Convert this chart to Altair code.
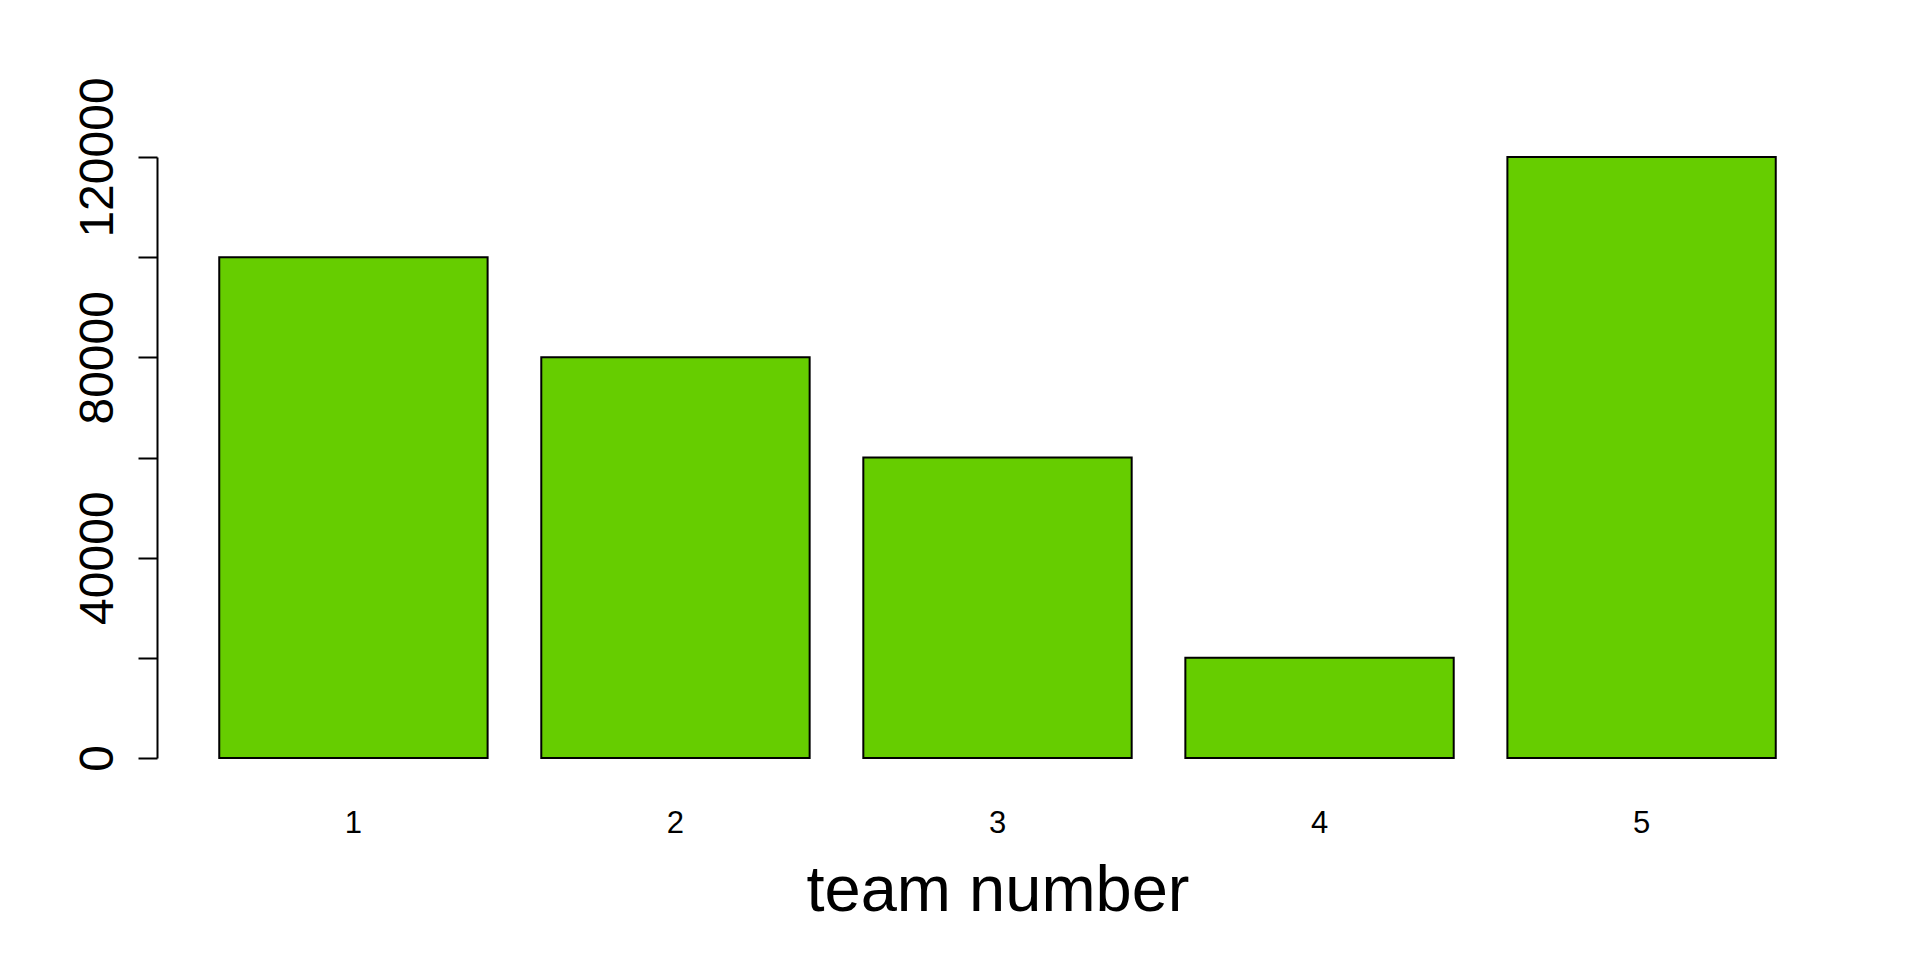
import altair as alt
import pandas as pd

teams = ["1", "2", "3", "4", "5"]
values = [100000, 80000, 60000, 20000, 120000]
y_ticks = [0, 20000, 40000, 60000, 80000, 100000, 120000]

df = pd.DataFrame({"team": teams, "value": values})

FONT = "Liberation Sans"

chart = alt.Chart(df).mark_bar(
    color="#66CD00", stroke="black", strokeWidth=2
).encode(
    x=alt.X(
        "team:N",
        sort=teams,
        scale=alt.Scale(paddingInner=0.2 / 1.2, paddingOuter=0.1933),
        axis=alt.Axis(
            title="team number",
            titleFont=FONT,
            titleFontSize=65,
            titleFontWeight="normal",
            titleColor="black",
            titlePadding=21,
            labelFont=FONT,
            labelFontSize=31,
            labelColor="black",
            labelAngle=0,
            labelPadding=50,
            labelBaseline="top",
            ticks=False,
            tickSize=0,
            domain=False,
            grid=False,
        ),
    ),
    y=alt.Y(
        "value:Q",
        scale=alt.Scale(domain=[0, 120000], nice=False, zero=True),
        axis=alt.Axis(
            title=None,
            values=y_ticks,
            format="d",
            labelExpr="datum.value % 40000 == 0 ? datum.label : ''",
            labelFont=FONT,
            labelFontSize=48,
            labelColor="black",
            labelAngle=-90,
            labelAlign="center",
            labelBaseline="bottom",
            labelPadding=16,
            labelOverlap=False,
            labelFlush=False,
            tickSize=19,
            tickColor="black",
            tickWidth=2,
            domainColor="black",
            domainWidth=2,
            grid=False,
        ),
    ),
).properties(
    width=1681,
    height=601,
    autosize=alt.AutoSizeParams(type="none"),
    padding={"left": 149, "top": 149, "right": 70, "bottom": 190},
).configure(
    background="white"
).configure_view(
    strokeWidth=0, stroke="transparent"
)

chart.save("out.html", embed_options={"renderer": "svg", "actions": False})
